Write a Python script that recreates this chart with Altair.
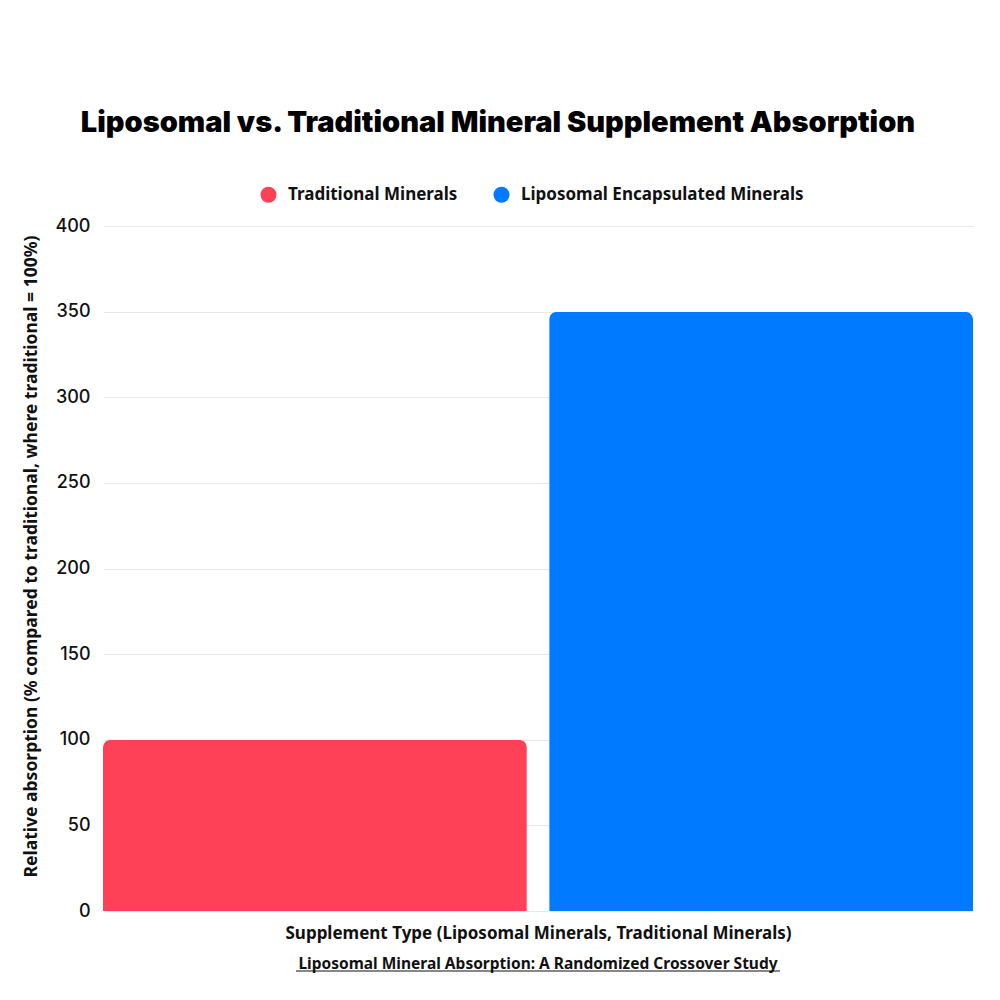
import altair as alt
import pandas as pd

supplements = ["Traditional Minerals", "Liposomal Encapsulated Minerals"]
absorption = [100, 350]
colors = ["#FF4158", "#007AFF"]
title_text = "Liposomal vs. Traditional Mineral Supplement Absorption"
x_title = "Supplement Type (Liposomal Minerals, Traditional Minerals)"
y_title = "Relative absorption (% compared to traditional, where traditional = 100%)"
source_text = "Liposomal Mineral Absorption: A Randomized Crossover Study"

W, H = 870, 685

df = pd.DataFrame({"Supplement": supplements, "Absorption": absorption})

bars = alt.Chart(df).mark_bar(cornerRadiusTopLeft=8, cornerRadiusTopRight=8).encode(
    x=alt.X("Supplement:N", sort=supplements,
            scale=alt.Scale(paddingInner=0.05, paddingOuter=0),
            axis=alt.Axis(title=x_title, labels=False, ticks=False, domain=False, grid=False,
                          titleFont="Noto Sans", titleFontSize=17, titleFontWeight="bold",
                          titleColor="#111111", titlePadding=14)),
    y=alt.Y("Absorption:Q", scale=alt.Scale(domain=[0, 400]),
            axis=alt.Axis(title=y_title, values=list(range(0, 401, 50)), ticks=False, domain=False,
                          gridColor="#E8E8E8", labelFont="Inter", labelFontSize=18,
                          labelFontWeight=500, labelColor="#111111", labelPadding=13,
                          titleFont="Noto Sans", titleFontSize=17.5, titleFontWeight="bold",
                          titleColor="#111111", titlePadding=14, titleY=330)),
    color=alt.Color("Supplement:N", sort=supplements,
                    scale=alt.Scale(domain=supplements, range=colors),
                    legend=alt.Legend(title=None, orient="none", legendX=157, legendY=-40,
                                      direction="horizontal",
                                      symbolType="circle", symbolSize=256, symbolStrokeWidth=0,
                                      labelFont="Noto Sans", labelFontSize=17, labelFontWeight="bold",
                                      labelColor="#111111", columnPadding=35, symbolOffset=0,
                                      labelOffset=11, labelLimit=400)),
)

src_df = pd.DataFrame({"t": [source_text]})
src = alt.Chart(src_df).mark_text(font="Noto Sans", fontSize=15.5, fontWeight="bold",
                                  color="#111111", align="center", baseline="middle").encode(
    x=alt.value(W / 2), y=alt.value(H + 53), text="t:N")
underline = alt.Chart(src_df).mark_rule(color="#111111", strokeWidth=1.2).encode(
    x=alt.value(W / 2 - 242), x2=alt.value(W / 2 + 242), y=alt.value(H + 60))

chart = alt.layer(bars, src, underline).properties(
    width=W, height=H,
    autosize=alt.AutoSizeParams(type="none"),
    padding={"top": 218, "left": 95, "right": 19, "bottom": 81},
    title=alt.TitleParams(title_text, font="Inter", fontSize=29, fontWeight=900,
                          color="#000000", anchor="middle", frame="bounds",
                          baseline="alphabetic", offset=25),
).configure(background="white").configure_view(stroke="transparent", strokeWidth=0)

chart.save("out.html", embed_options={"renderer": "svg", "actions": False})
